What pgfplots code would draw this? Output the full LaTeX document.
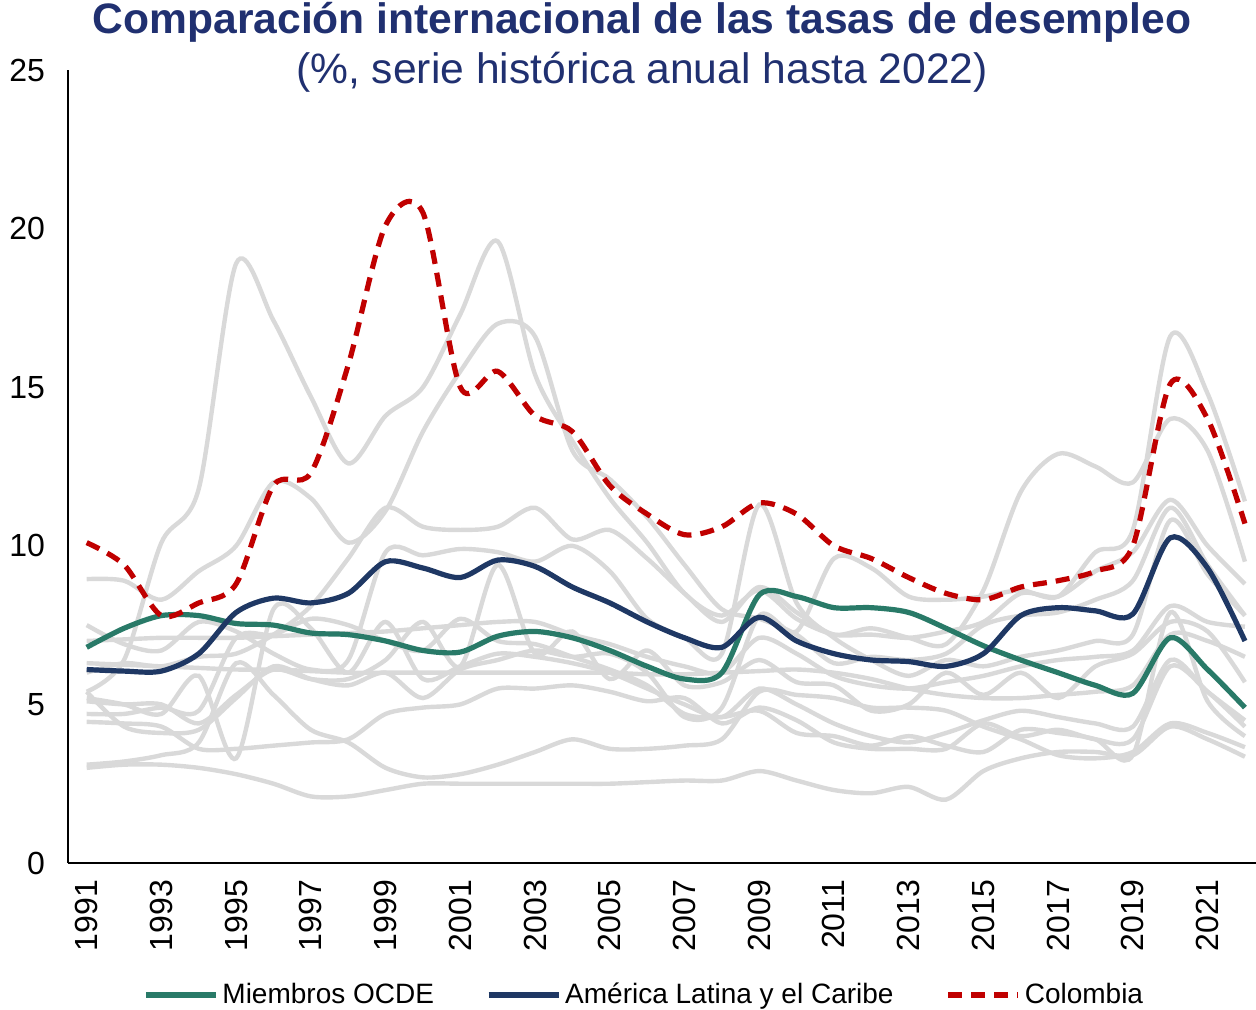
\documentclass[border=0pt]{standalone}
\usepackage{fontspec}
\setmainfont{Liberation Sans}
\usepackage{pgfplots}
\usepackage{pgfplotstable}
\pgfplotsset{compat=1.18}
\definecolor{ocde}{RGB}{41,122,104}
\definecolor{alc}{RGB}{31,56,100}
\definecolor{col}{RGB}{192,0,0}
\definecolor{gris}{RGB}{217,217,217}
\definecolor{titulo}{RGB}{32,48,112}

\pgfplotstableread{
year col ocde alc
1991 10.1 6.8 6.1
1992 9.4 7.4 6.05
1993 7.8 7.8 6.05
1994 8.2 7.8 6.6
1995 8.8 7.55 7.9
1996 11.9 7.5 8.35
1997 12.3 7.25 8.2
1998 15.7 7.2 8.5
1999 20.1 7.0 9.5
2000 20.5 6.7 9.3
2001 15.0 6.65 9.0
2002 15.5 7.15 9.55
2003 14.1 7.3 9.35
2004 13.6 7.1 8.7
2005 11.9 6.7 8.2
2006 11.0 6.2 7.6
2007 10.35 5.8 7.1
2008 10.6 6.0 6.8
2009 11.35 8.45 7.75
2010 11.0 8.4 7.0
2011 10.0 8.05 6.6
2012 9.6 8.05 6.4
2013 9.0 7.9 6.35
2014 8.5 7.4 6.2
2015 8.3 6.85 6.6
2016 8.7 6.4 7.8
2017 8.9 6.0 8.05
2018 9.2 5.6 7.95
2019 10.0 5.35 7.85
2020 15.1 7.1 10.25
2021 14.0 6.1 9.3
2022 10.7 4.9 7.0
}\principales

\pgfplotstableread{
year g1 g2 g3 g4 g5 g6 g7 g8 g9 g10 g11 g12 g13
1991 5.4 8.95 6.0 5.4 7.5 3.0 3.1 5.2 4.7 5.1 4.45 6.3 7.0
1992 6.4 8.9 6.3 4.3 6.9 3.1 3.2 5.0 4.7 5.0 4.4 6.25 7.05
1993 10.1 8.3 6.2 4.1 6.7 3.1 3.4 4.7 4.9 5.0 4.3 6.2 7.1
1994 11.8 9.2 6.5 4.2 7.6 3.0 3.8 5.9 4.8 4.4 3.6 6.15 7.1
1995 18.9 10.0 6.6 5.2 7.3 2.8 6.3 3.3 7.1 5.3 3.6 6.1 7.1
1996 17.1 12.0 7.2 6.2 6.6 2.5 5.3 8.0 7.2 6.1 3.7 6.1 7.15
1997 14.7 11.5 8.1 5.8 6.1 2.1 4.2 7.4 7.7 5.8 3.8 6.05 7.2
1998 12.6 10.1 9.6 5.6 6.4 2.1 3.8 6.0 7.5 5.8 3.9 6.0 7.25
1999 14.1 11.1 11.2 6.0 9.8 2.3 3.0 7.6 7.0 6.4 4.7 6.0 7.3
2000 15.0 13.6 10.6 5.2 9.7 2.5 2.7 5.8 6.7 7.6 4.9 6.0 7.4
2001 17.3 15.5 10.5 6.1 9.9 2.5 2.8 6.2 7.7 6.2 5.0 6.0 7.5
2002 19.6 17.0 10.6 6.4 9.8 2.5 3.1 6.6 7.0 9.4 5.5 6.0 7.6
2003 15.4 16.6 11.2 6.7 9.5 2.5 3.5 6.5 6.9 6.6 5.5 6.0 7.6
2004 13.3 13.0 10.2 6.5 10.0 2.5 3.9 6.3 6.5 7.3 5.6 6.0 7.2
2005 11.5 12.1 10.5 6.6 9.2 2.5 3.6 6.0 6.1 5.8 5.4 6.0 6.9
2006 10.1 10.9 9.6 6.0 7.7 2.55 3.6 5.5 5.6 6.7 5.1 5.95 6.5
2007 8.5 9.4 8.5 4.6 7.1 2.6 3.7 5.0 4.7 5.6 5.2 5.95 6.2
2008 7.8 8.0 7.6 4.9 6.6 2.6 3.9 4.6 4.6 5.7 4.4 6.0 6.0
2009 8.6 7.7 8.7 7.8 11.3 2.9 5.4 5.5 4.8 6.4 4.9 6.05 7.1
2010 7.7 7.2 7.9 7.3 8.2 2.6 5.3 5.0 4.1 5.7 4.5 6.1 6.6
2011 7.2 6.3 7.2 9.6 7.1 2.3 5.2 4.4 4.0 5.6 3.8 6.0 5.9
2012 7.2 6.5 7.4 9.3 6.4 2.2 4.9 4.0 3.7 4.8 3.6 5.8 5.6
2013 7.1 6.4 7.1 8.4 5.9 2.4 4.9 3.8 4.0 5.0 3.6 5.5 5.5
2014 7.3 6.6 6.9 8.3 6.4 2.0 4.8 4.1 3.7 6.0 3.6 5.3 5.7
2015 7.6 7.5 8.6 8.4 6.2 2.9 4.3 4.5 3.5 5.3 4.4 5.2 5.9
2016 8.5 7.8 11.7 8.6 6.5 3.3 3.9 4.8 4.2 6.0 4.0 5.2 6.2
2017 8.4 7.9 12.9 8.4 6.7 3.5 3.4 4.6 4.1 5.2 4.2 5.3 6.4
2018 9.2 8.3 12.5 9.8 7.0 3.5 3.3 4.4 3.9 6.2 3.9 5.4 6.5
2019 9.8 8.9 12.0 10.5 7.2 3.4 3.5 4.3 3.4 6.6 3.9 5.6 6.7
2020 11.45 11.2 14.0 16.6 10.8 4.3 4.4 6.4 7.9 7.6 6.2 7.2 8.1
2021 10.0 9.4 13.0 14.8 9.1 3.9 4.1 5.4 5.1 7.3 5.4 7.0 7.6
2022 8.8 7.8 9.5 11.4 7.8 3.35 3.65 4.5 4.0 5.7 4.3 6.5 7.45
}\grises

\begin{document}
\begin{tikzpicture}
\useasboundingbox (-34pt,-73pt) rectangle (594pt,431.5pt);
\begin{axis}[
  at={(0,0)}, anchor=south west,
  scale only axis, width=595pt, height=396.5pt,
  xmin=1990.5, xmax=2022.35, ymin=0, ymax=25,
  axis x line=bottom, axis y line=left,
  axis line style={-, line width=1pt, black},
  xtick={1991,1993,...,2021}, ytick={0,5,...,25},
  major tick length=0pt,
  /pgf/number format/.cd, 1000 sep={}, assume math mode=true,
  /pgfplots/.cd,
  x tick label style={rotate=90, anchor=east, font=\fontsize{16}{19}\selectfont},
  xticklabel shift=5pt,
  y tick label style={font=\fontsize{16}{19}\selectfont},
  yticklabel shift=8pt,
  legend style={at={(0.485,-0.1665)}, anchor=center, legend columns=3,
    draw=none, fill=none, font=\fontsize{14}{16}\selectfont,
    /tikz/every even column/.append style={column sep=24pt}},
  legend cell align=left,
  legend image code/.code={\draw[#1] (0pt,0pt) -- (35pt,0pt);},
]
\foreach \g in {g1,g2,g3,g4,g5,g6,g7,g8,g9,g10,g11,g12,g13}{
  \addplot[gris, line width=2.2pt, smooth, forget plot] table[x=year, y=\g] {\grises};
}
\addplot[ocde, line width=2.6pt, smooth] table[x=year, y=ocde] {\principales};
\addlegendentry{Miembros OCDE}
\addplot[alc, line width=2.6pt, smooth] table[x=year, y=alc] {\principales};
\addlegendentry{América Latina y el Caribe}
\addplot[col, line width=2.6pt, smooth, dash pattern=on 7pt off 4.5pt] table[x=year, y=col] {\principales};
\addlegendentry{Colombia}
\end{axis}
\node[font=\fontsize{21.3}{25}\selectfont\bfseries, text=titulo] at (287pt,420.5pt) {Comparación internacional de las tasas de desempleo};
\node[font=\fontsize{21.3}{25}\selectfont, text=titulo] at (287pt,395.5pt) {(\%, serie histórica anual hasta 2022)};
\end{tikzpicture}
\end{document}
